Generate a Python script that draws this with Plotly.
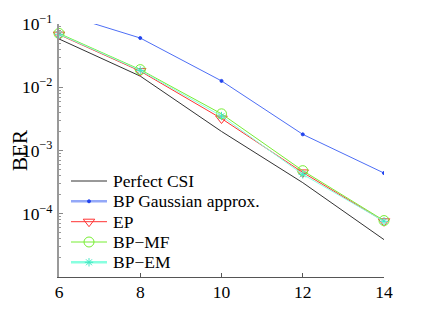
import plotly.graph_objects as go

snr = [6, 8, 10, 12, 14]

# BER curves
ber_perfect = [0.058, 0.015, 0.0020, 3.1e-4, 3.9e-5]
ber_bp_gauss = [0.15, 0.060, 0.0126, 0.0018, 4.4e-4]
ber_ep = [0.068, 0.018, 0.0032, 4.5e-4, 7.6e-5]
ber_bp_mf = [0.071, 0.019, 0.0038, 4.8e-4, 7.8e-5]
ber_bp_em = [0.069, 0.0185, 0.0035, 4.2e-4, 7.6e-5]

names = ["Perfect CSI", "BP Gaussian approx.", "EP", "BP\u2212MF", "BP\u2212EM"]

y_ticks = [1e-4, 1e-3, 1e-2, 1e-1]
y_ticktext = ["10<sup>\u22124</sup>", "10<sup>\u22123</sup>", "10<sup>\u22122</sup>", "10<sup>\u22121</sup>"]
x_ticks = [6, 8, 10, 12, 14]

SERIF = "Liberation Serif, Times New Roman, serif"

# style for each series: (line colour, line width, marker symbol, marker size, marker colour)
styles = [
    ("#333333", 1, None, 0, None),
    ("#4d6ef5", 1, "circle", 3, "#2244ee"),
    ("#ff3333", 1, "triangle-down-open", 10, "#ff3333"),
    ("#77ee33", 1, "circle-open", 10, "#77ee33"),
    ("#88ffe0", 1, "asterisk-open", 7, "#44e8c4"),
]
series = [ber_perfect, ber_bp_gauss, ber_ep, ber_bp_mf, ber_bp_em]

fig = go.Figure()

for i, (ys, st) in enumerate(zip(series, styles)):
    color, width, symbol, msize, mcolor = st
    kw = dict(mode="lines")
    if symbol:
        kw = dict(mode="lines+markers",
                  marker=dict(symbol=symbol, size=msize, color=mcolor,
                              line=dict(width=1, color=mcolor)))
    fig.add_trace(go.Scatter(
        x=snr, y=ys, name=names[i], showlegend=False,
        line=dict(color=color, width=width),
        cliponaxis=(i < 2), **kw,
    ))

# hand-made legend on a hidden pixel-scaled overlay (plot area is 325 x 253 px)
row_y = [157, 177.3, 197.7, 218, 238.3]
for i, st in enumerate(styles):
    color, width, symbol, msize, mcolor = st
    lw = 2.5 if i in (1, 4) else width
    lcolor = "#93a8f8" if i == 1 else color
    fig.add_trace(go.Scatter(
        x=[12, 48], y=[row_y[i], row_y[i]], xaxis="x2", yaxis="y2",
        mode="lines", line=dict(color=lcolor, width=lw),
        showlegend=False, hoverinfo="skip", cliponaxis=False,
    ))
    if symbol:
        fig.add_trace(go.Scatter(
            x=[30], y=[row_y[i]], xaxis="x2", yaxis="y2", mode="markers",
            marker=dict(symbol=symbol, size=msize, color=mcolor,
                        line=dict(width=1, color=mcolor)),
            showlegend=False, hoverinfo="skip", cliponaxis=False,
        ))
    fig.add_annotation(
        x=52, y=row_y[i], xref="x2", yref="y2", text=names[i],
        showarrow=False, xanchor="left", yanchor="middle",
        font=dict(family=SERIF, size=17.5, color="black"),
    )

# x axis title placed on the overlay so it sits where the reference has it
fig.add_annotation(
    x=162.5, y=286, xref="x2", yref="y2", text="SNR (dB)",
    showarrow=False, xanchor="center", yanchor="middle",
    font=dict(family=SERIF, size=18, color="black"),
)

minor_vals = [m * 10.0 ** e for e in range(-5, -1) for m in range(2, 10)]

# the page body adds an 8px offset, so margins are shifted to compensate
fig.update_layout(
    width=425, height=320,
    margin=dict(l=51, r=49, t=16, b=51),
    paper_bgcolor="white", plot_bgcolor="white",
    font=dict(family=SERIF, size=17.5, color="black"),
    showlegend=False,
    xaxis=dict(
        range=[6, 14], tickvals=x_ticks, ticks="inside", ticklen=4,
        tickcolor="#555555", showline=True, linecolor="#555555", linewidth=1,
        showgrid=False, zeroline=False, ticklabelstandoff=-1, automargin=False,
    ),
    yaxis=dict(
        type="log", range=[-5, -1], tickvals=y_ticks, ticktext=y_ticktext,
        ticks="inside", ticklen=4, tickcolor="#888888",
        showline=True, linecolor="#999999", linewidth=2,
        showgrid=False, zeroline=False, automargin=False, ticklabelstandoff=1,
        minor=dict(tickvals=minor_vals, ticks="inside", ticklen=2,
                   tickcolor="#999999", showgrid=False),
        title=dict(text="BER", standoff=4),
    ),
    xaxis2=dict(overlaying="x", range=[0, 325], visible=False),
    yaxis2=dict(overlaying="y", range=[253, 0], visible=False),
)

fig.write_html("out.html")
